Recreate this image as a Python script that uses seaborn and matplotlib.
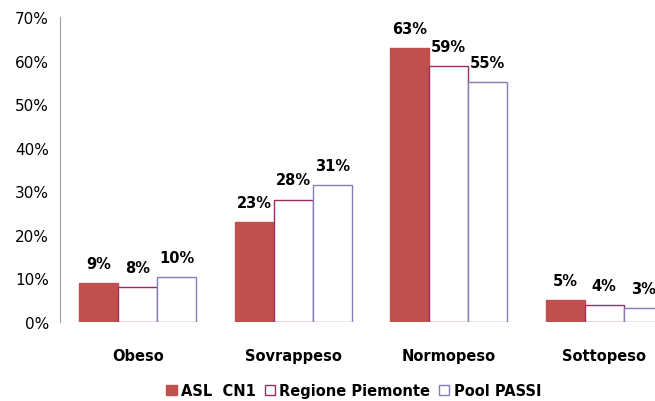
import matplotlib
matplotlib.use("Agg")
import matplotlib.pyplot as plt
import seaborn as sns
import pandas as pd
from matplotlib.patches import Patch

# Dati (percentuali)
categorie = ["Obeso", "Sovrappeso", "Normopeso", "Sottopeso"]
serie = ["ASL  CN1", "Regione Piemonte", "Pool PASSI"]
asl_cn1 = [8.9, 22.9, 62.8, 5.0]
regione_piemonte = [8.0, 28.0, 58.7, 3.9]
pool_passi = [10.3, 31.4, 55.0, 3.2]
etichette = [["9%", "23%", "63%", "5%"],
             ["8%", "28%", "59%", "4%"],
             ["10%", "31%", "55%", "3%"]]

df = pd.DataFrame({
    "categoria": categorie * 3,
    "serie": [serie[0]] * 4 + [serie[1]] * 4 + [serie[2]] * 4,
    "valore": asl_cn1 + regione_piemonte + pool_passi,
})

sns.set_style("white")
plt.rcParams["font.family"] = ["DejaVu Sans"]
plt.rcParams["text.color"] = "black"
plt.rcParams["xtick.color"] = "black"
plt.rcParams["ytick.color"] = "black"

facce = ["#C0504D", "white", "white"]
bordi = ["#C0504D", "#9B2D62", "#8080B8"]

fig = plt.figure(figsize=(6.55, 4.02), dpi=100)
ax = fig.add_axes([60 / 655, 79 / 402, 622 / 655, 305 / 402])

sns.barplot(data=df, x="categoria", y="valore", hue="serie", order=categorie,
            hue_order=serie, width=0.75, ax=ax, legend=False, saturation=1)

for i, cont in enumerate(ax.containers):
    for bar in cont:
        bar.set_facecolor(facce[i])
        bar.set_edgecolor(bordi[i])
        bar.set_linewidth(1.0)
    ax.bar_label(cont, labels=etichette[i], padding=9, fontsize=10.5,
                 fontweight="bold", color="black")

ax.set_ylim(0, 70)
ax.set_xlim(-0.5, 3.5)
ax.set_yticks(range(0, 71, 10))
ax.set_yticklabels([f"{v}%" for v in range(0, 71, 10)], fontsize=11)
ax.set_xticklabels(categorie, fontsize=10.5, fontweight="bold")
ax.set_xlabel("")
ax.set_ylabel("")
for s in ["top", "right", "bottom"]:
    ax.spines[s].set_visible(False)
ax.spines["left"].set_color("#A0A0A0")
ax.tick_params(axis="y", length=5, color="#A0A0A0", labelcolor="black", pad=3)
ax.tick_params(axis="x", length=0, pad=19, labelcolor="black")

maniglie = [Patch(facecolor=facce[i], edgecolor=bordi[i], label=serie[i])
            for i in range(3)]
fig.legend(handles=maniglie, loc="center", bbox_to_anchor=(0.54, 0.026),
           ncol=3, frameon=False, prop={"weight": "bold", "size": 10.5},
           handlelength=0.7, handleheight=0.7, handletextpad=0.3,
           columnspacing=0.6)

fig.savefig("out.png", dpi=100)
